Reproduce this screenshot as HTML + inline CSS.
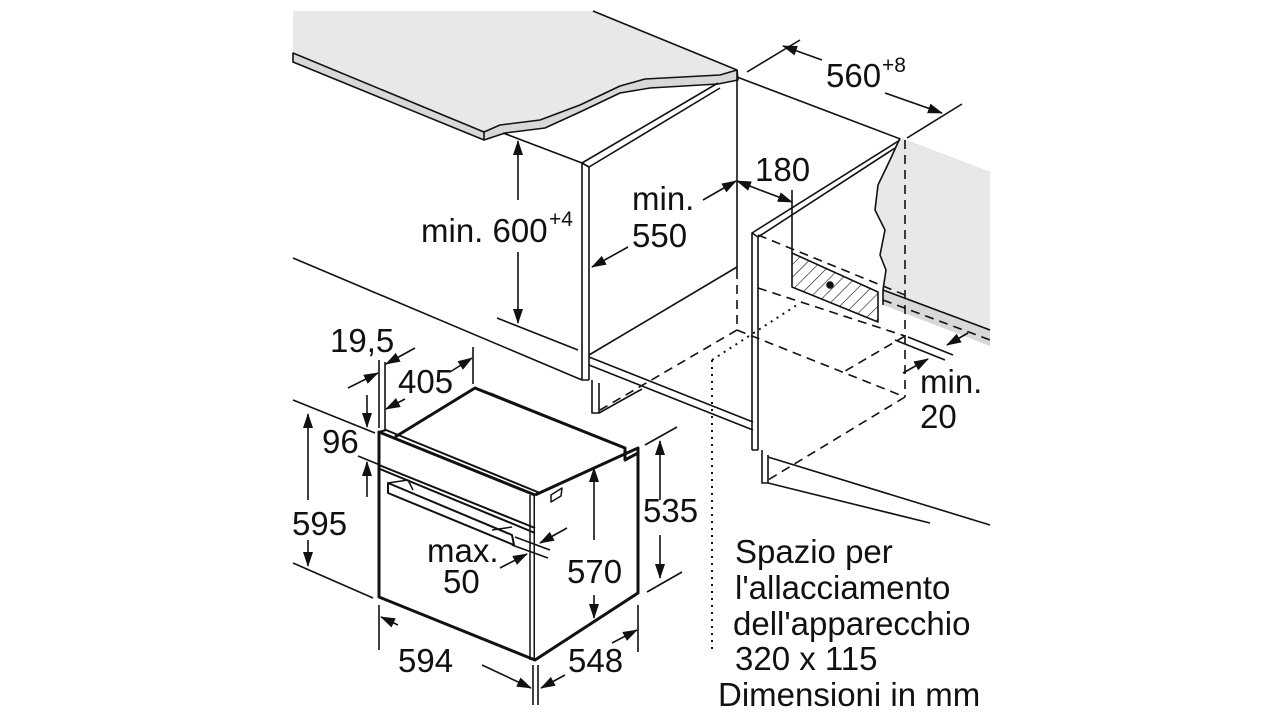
<!DOCTYPE html>
<html><head><meta charset="utf-8"><style>
html,body{margin:0;padding:0;background:#fff;}
svg{display:block;}
text{font-family:"Liberation Sans",Arial,sans-serif;font-size:33px;fill:#111;}
.s{font-size:21px;}
</style></head><body>
<svg width="1280" height="720" viewBox="0 0 1280 720" xmlns="http://www.w3.org/2000/svg">
<defs>
<marker id="a" markerUnits="userSpaceOnUse" markerWidth="16" markerHeight="12" refX="14" refY="5" orient="auto"><path d="M0,0 L15,5 L0,10 z" fill="#111"/></marker>
<pattern id="h" patternUnits="userSpaceOnUse" width="9" height="9" patternTransform="rotate(45)"><line x1="0" y1="0" x2="0" y2="9" stroke="#111" stroke-width="1.2"/></pattern>
</defs>
<g fill="none" stroke="#111" stroke-width="1.6" stroke-linejoin="round">
<!-- countertop left -->
<path d="M293,11 L593,11 L737,70 L738,80 L718,84 L650,88 L620,93 L580,112 L545,128 L505,133 L484,140 L293,62 Z" fill="#d8d8d8" stroke="none"/>
<path d="M293,11 L593,11 L737,70 L720,75 L645,79 L620,86 L580,105 L540,120 L500,125 L484,132 L293,53 Z" fill="#e8e8e8" stroke="none"/>
<path d="M593,11 L737,70 L738,80 L718,84 L650,88 L620,93 L580,112 L545,128 L505,133 L484,140 L293,62 L293,53 L484,132 L500,125 L540,120 L580,105 L620,86 L645,79 L720,75 L737,70"/>
<line x1="484" y1="132" x2="484" y2="140"/>
<!-- left cabinet -->
<line x1="503" y1="133" x2="582" y2="163"/>
<path d="M582,380 L582,163 L718,83 M589,380 L589,167 L720,88 M582,163 L589,167"/>
<line x1="737" y1="70" x2="737" y2="270"/>
<line x1="589" y1="355" x2="737" y2="267"/>
<line x1="293" y1="258" x2="582" y2="380"/>
<line x1="497" y1="318" x2="578" y2="350"/>
<path d="M582,380 L589,380 M589,365 L753,430 M589,357 L753,422"/>
<path d="M592,380 L592,413 L599,413 L599,383 M599,413 L642,389"/>
<!-- back wall lines -->
<line x1="737" y1="77" x2="990" y2="173"/>
<!-- right countertop -->
<path d="M900,138 L990,172 L990,330 L883,290 L886,270 L880,255 L885,230 L875,210 L878,185 L890,160 Z" fill="#e8e8e8" stroke="none"/>
<path d="M883,290 L990,330 L990,346 L883,305 Z" fill="#d8d8d8" stroke="none"/>
<path d="M900,138 L890,160 L878,185 L875,210 L885,230 L880,255 L886,270 L883,290 L883,305 M883,290 L990,330"/>
<!-- right cabinet -->
<path d="M752,450 L752,233 L900,140 M758,450 L758,237 L895,148 M752,233 L758,237 M752,450 L758,450"/>
<path d="M762,450 L762,483 L768,483 L768,455 M768,483 L930,523 M768,457 L990,525"/>
<!-- hatched -->
<path d="M792,253 L792,287 L878,322 L878,292 Z" fill="url(#h)"/>
<circle cx="830" cy="285" r="3" fill="#111"/>
<!-- dashed -->
<g stroke-dasharray="9,6">
<line x1="737" y1="270" x2="737" y2="330"/>
<line x1="905" y1="140" x2="905" y2="397"/>
<line x1="737" y1="330" x2="905" y2="397"/>
<line x1="737" y1="330" x2="600" y2="410"/>
<line x1="758" y1="235" x2="905" y2="295"/>
<line x1="758" y1="288" x2="905" y2="336"/>
<line x1="905" y1="397" x2="768" y2="480"/>
<line x1="905" y1="336" x2="840" y2="374"/>
<line x1="883" y1="300" x2="990" y2="340"/>
</g>
<g stroke-dasharray="2,5" stroke-width="2">
<line x1="712" y1="360" x2="712" y2="650"/>
<line x1="712" y1="360" x2="800" y2="303"/>
</g>
<!-- 560 dim -->
<line x1="747" y1="72" x2="800" y2="40"/>
<line x1="907" y1="138" x2="962" y2="104"/>
<line x1="822" y1="60" x2="783" y2="46" marker-end="url(#a)"/>
<line x1="885" y1="93" x2="942" y2="113" marker-end="url(#a)"/>
<!-- 180 -->
<line x1="792" y1="190" x2="792" y2="253"/>
<line x1="760" y1="190" x2="737" y2="181" marker-end="url(#a)"/>
<line x1="760" y1="190" x2="792" y2="202" marker-end="url(#a)"/>
<!-- 550 arrows -->
<line x1="703" y1="200" x2="736" y2="181" marker-end="url(#a)"/>
<line x1="628" y1="247" x2="592" y2="267" marker-end="url(#a)"/>
<!-- 600 -->
<line x1="518" y1="200" x2="518" y2="141" marker-end="url(#a)"/>
<line x1="518" y1="252" x2="518" y2="323" marker-end="url(#a)"/>
<!-- min 20 -->
<line x1="908" y1="337" x2="953" y2="355"/>
<line x1="895" y1="340" x2="945" y2="360"/>
<line x1="968" y1="333" x2="947" y2="345" marker-end="url(#a)"/>
<line x1="903" y1="373" x2="928" y2="359" marker-end="url(#a)"/>
</g>
<!-- oven -->
<g fill="none" stroke="#111" stroke-linejoin="round">
<path d="M379,432 L535,495 L535,660 L379,597 Z" stroke-width="3" fill="#fff"/>
<path d="M535,495 L638,448 L638,593 L535,660" stroke-width="3" fill="#fff"/>
<path d="M395,437 L475,388 L625,448 L625,460 L638,453" stroke-width="3"/>
<path d="M490,393 L622,447" stroke-width="1.5"/>
<path d="M379,432 L386,430 L540,493" stroke-width="2"/>
<path d="M379,465 L535,528 M380,469 L535,533" stroke-width="2"/>
<path d="M530,495 L530,660" stroke-width="1.5"/>
<path d="M388,483 L512,535 L514,545 L388,493 Z" stroke-width="2"/>
<path d="M388,483 L408,480 L413,490 M492,530 L512,527" stroke-width="1.5"/>
<path d="M551,495 L562,488 L561,496 L551,502 Z" stroke-width="1.5"/>
</g>
<g fill="none" stroke="#111" stroke-width="1.6">
<!-- 595 -->
<line x1="293" y1="400" x2="375" y2="433"/>
<line x1="293" y1="563" x2="373" y2="598"/>
<line x1="308" y1="500" x2="308" y2="414" marker-end="url(#a)"/>
<line x1="308" y1="540" x2="308" y2="566" marker-end="url(#a)"/>
<!-- 96 -->
<line x1="358" y1="456" x2="380" y2="465"/>
<line x1="367" y1="395" x2="367" y2="427" marker-end="url(#a)"/>
<line x1="367" y1="497" x2="367" y2="462" marker-end="url(#a)"/>
<!-- 19,5 -->
<line x1="379" y1="360" x2="379" y2="428"/>
<line x1="385" y1="362" x2="385" y2="430"/>
<line x1="348" y1="388" x2="378" y2="373" marker-end="url(#a)"/>
<line x1="415" y1="348" x2="386" y2="364" marker-end="url(#a)"/>
<!-- 405 -->
<line x1="473" y1="347" x2="473" y2="384"/>
<line x1="450" y1="372" x2="472" y2="358" marker-end="url(#a)"/>
<line x1="405" y1="399" x2="386" y2="409" marker-end="url(#a)"/>
<!-- max 50 -->
<line x1="515" y1="537" x2="550" y2="550"/>
<line x1="512" y1="545" x2="548" y2="558"/>
<line x1="567" y1="528" x2="540" y2="543" marker-end="url(#a)"/>
<line x1="500" y1="568" x2="527" y2="554" marker-end="url(#a)"/>
<!-- 570 -->
<line x1="594" y1="540" x2="594" y2="468" marker-end="url(#a)"/>
<line x1="594" y1="595" x2="594" y2="618" marker-end="url(#a)"/>
<!-- 535 -->
<line x1="645" y1="445" x2="677" y2="427"/>
<line x1="647" y1="592" x2="682" y2="572"/>
<line x1="660" y1="500" x2="660" y2="441" marker-end="url(#a)"/>
<line x1="660" y1="535" x2="660" y2="578" marker-end="url(#a)"/>
<!-- 594 -->
<line x1="379" y1="605" x2="379" y2="650"/>
<line x1="533" y1="665" x2="533" y2="705"/>
<line x1="538" y1="665" x2="538" y2="705"/>
<line x1="398" y1="625" x2="381" y2="617" marker-end="url(#a)"/>
<line x1="482" y1="665" x2="531" y2="688" marker-end="url(#a)"/>
<!-- 548 -->
<line x1="638" y1="605" x2="638" y2="652"/>
<line x1="565" y1="675" x2="541" y2="688" marker-end="url(#a)"/>
<line x1="612" y1="643" x2="637" y2="630" marker-end="url(#a)"/>
</g>
<!-- text -->
<text x="826" y="87">560</text><text class="s" x="882" y="72">+8</text>
<text x="755" y="181">180</text>
<text x="632" y="210">min.</text><text x="632" y="247">550</text>
<text x="421" y="242">min. 600</text><text class="s" x="549" y="226">+4</text>
<text x="920" y="393">min.</text><text x="920" y="428">20</text>
<text x="330" y="352">19,5</text>
<text x="398" y="393">405</text>
<text x="322" y="453">96</text>
<text x="292" y="535">595</text>
<text x="427" y="562">max.</text><text x="443" y="593">50</text>
<text x="567" y="583">570</text>
<text x="643" y="522">535</text>
<text x="398" y="672">594</text>
<text x="568" y="672">548</text>
<text x="735" y="563">Spazio per</text>
<text x="735" y="599">l'allacciamento</text>
<text x="733" y="635">dell'apparecchio</text>
<text x="735" y="670">320 x 115</text>
<text x="718" y="706">Dimensioni in mm</text>
</svg>
</body></html>
